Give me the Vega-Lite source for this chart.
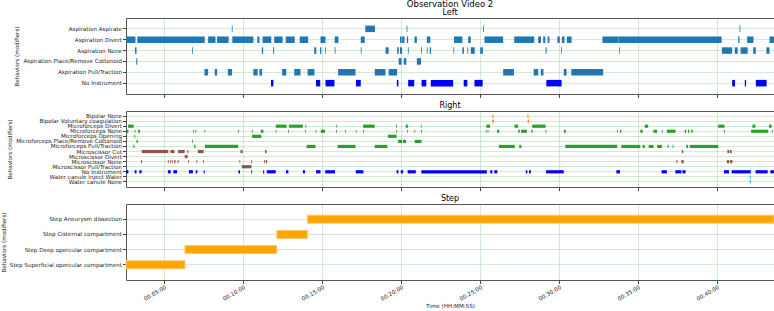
{
"$schema": "https://vega.github.io/schema/vega-lite/v6.json",
"padding": {"left": 0, "right": 0, "top": 0, "bottom": 0},
"background": "white",
"config": {
  "font": "DejaVu Sans",
  "view": {"stroke": "#555", "strokeWidth": 1},
  "title": {"fontSize": 8, "fontWeight": "normal", "color": "#000", "offset": 1, "frame": "group"},
  "axis": {"domain": false, "labelFont": "DejaVu Sans", "labelFontSize": 5.6, "labelColor": "#222", "titleFont": "DejaVu Sans", "titleFontSize": 5.6, "titleFontWeight": "normal", "titleColor": "#222", "tickColor": "#444", "tickSize": 3.5, "gridColor": "#2ca02c", "gridOpacity": 0.3, "gridWidth": 0.7, "labelOverlap": false}
},
"title": {"text": "Observation Video 2", "anchor": "middle", "fontSize": 8.5, "offset": 0},
"spacing": 2,
"datasets": {
"left": [
{"b":"Aspiration Aspirate","g":"Aspiration","s":556,"e":559},
{"b":"Aspiration Aspirate","g":"Aspiration","s":1063,"e":1100},
{"b":"Aspiration Aspirate","g":"Aspiration","s":1220,"e":1223},
{"b":"Aspiration Aspirate","g":"Aspiration","s":1511,"e":1514},
{"b":"Aspiration Aspirate","g":"Aspiration","s":2485,"e":2488},
{"b":"Aspiration Divert","g":"Aspiration","s":155,"e":190},
{"b":"Aspiration Divert","g":"Aspiration","s":197,"e":453},
{"b":"Aspiration Divert","g":"Aspiration","s":466,"e":494},
{"b":"Aspiration Divert","g":"Aspiration","s":500,"e":544},
{"b":"Aspiration Divert","g":"Aspiration","s":558,"e":638},
{"b":"Aspiration Divert","g":"Aspiration","s":653,"e":661},
{"b":"Aspiration Divert","g":"Aspiration","s":673,"e":706},
{"b":"Aspiration Divert","g":"Aspiration","s":717,"e":749},
{"b":"Aspiration Divert","g":"Aspiration","s":761,"e":795},
{"b":"Aspiration Divert","g":"Aspiration","s":814,"e":846},
{"b":"Aspiration Divert","g":"Aspiration","s":893,"e":912},
{"b":"Aspiration Divert","g":"Aspiration","s":947,"e":961},
{"b":"Aspiration Divert","g":"Aspiration","s":1046,"e":1061},
{"b":"Aspiration Divert","g":"Aspiration","s":1195,"e":1201},
{"b":"Aspiration Divert","g":"Aspiration","s":1203,"e":1212},
{"b":"Aspiration Divert","g":"Aspiration","s":1221,"e":1226},
{"b":"Aspiration Divert","g":"Aspiration","s":1250,"e":1259},
{"b":"Aspiration Divert","g":"Aspiration","s":1297,"e":1310},
{"b":"Aspiration Divert","g":"Aspiration","s":1400,"e":1432},
{"b":"Aspiration Divert","g":"Aspiration","s":1454,"e":1464},
{"b":"Aspiration Divert","g":"Aspiration","s":1516,"e":1587},
{"b":"Aspiration Divert","g":"Aspiration","s":1629,"e":1705},
{"b":"Aspiration Divert","g":"Aspiration","s":1720,"e":1731},
{"b":"Aspiration Divert","g":"Aspiration","s":1739,"e":1747},
{"b":"Aspiration Divert","g":"Aspiration","s":1756,"e":1763},
{"b":"Aspiration Divert","g":"Aspiration","s":1793,"e":1802},
{"b":"Aspiration Divert","g":"Aspiration","s":1810,"e":1820},
{"b":"Aspiration Divert","g":"Aspiration","s":1829,"e":1847},
{"b":"Aspiration Divert","g":"Aspiration","s":1964,"e":2026},
{"b":"Aspiration Divert","g":"Aspiration","s":2027,"e":2417},
{"b":"Aspiration Divert","g":"Aspiration","s":2480,"e":2485},
{"b":"Aspiration Divert","g":"Aspiration","s":2514,"e":2538},
{"b":"Aspiration Divert","g":"Aspiration","s":2599,"e":2616},
{"b":"Aspiration None","g":"Aspiration","s":188,"e":194},
{"b":"Aspiration None","g":"Aspiration","s":405,"e":408},
{"b":"Aspiration None","g":"Aspiration","s":670,"e":675},
{"b":"Aspiration None","g":"Aspiration","s":713,"e":717},
{"b":"Aspiration None","g":"Aspiration","s":869,"e":877},
{"b":"Aspiration None","g":"Aspiration","s":891,"e":896},
{"b":"Aspiration None","g":"Aspiration","s":910,"e":913},
{"b":"Aspiration None","g":"Aspiration","s":947,"e":950},
{"b":"Aspiration None","g":"Aspiration","s":1046,"e":1049},
{"b":"Aspiration None","g":"Aspiration","s":1140,"e":1152},
{"b":"Aspiration None","g":"Aspiration","s":1184,"e":1190},
{"b":"Aspiration None","g":"Aspiration","s":1195,"e":1203},
{"b":"Aspiration None","g":"Aspiration","s":1225,"e":1228},
{"b":"Aspiration None","g":"Aspiration","s":1275,"e":1278},
{"b":"Aspiration None","g":"Aspiration","s":1297,"e":1300},
{"b":"Aspiration None","g":"Aspiration","s":1308,"e":1313},
{"b":"Aspiration None","g":"Aspiration","s":1398,"e":1401},
{"b":"Aspiration None","g":"Aspiration","s":1432,"e":1438},
{"b":"Aspiration None","g":"Aspiration","s":1451,"e":1454},
{"b":"Aspiration None","g":"Aspiration","s":1464,"e":1479},
{"b":"Aspiration None","g":"Aspiration","s":1500,"e":1510},
{"b":"Aspiration None","g":"Aspiration","s":1748,"e":1752},
{"b":"Aspiration None","g":"Aspiration","s":1807,"e":1810},
{"b":"Aspiration None","g":"Aspiration","s":2027,"e":2030},
{"b":"Aspiration None","g":"Aspiration","s":2418,"e":2457},
{"b":"Aspiration None","g":"Aspiration","s":2467,"e":2478},
{"b":"Aspiration None","g":"Aspiration","s":2489,"e":2516},
{"b":"Aspiration None","g":"Aspiration","s":2537,"e":2547},
{"b":"Aspiration None","g":"Aspiration","s":2587,"e":2599},
{"b":"Aspiration Place/Remove Cottonoid","g":"Aspiration","s":193,"e":197},
{"b":"Aspiration Place/Remove Cottonoid","g":"Aspiration","s":1190,"e":1201},
{"b":"Aspiration Place/Remove Cottonoid","g":"Aspiration","s":1209,"e":1219},
{"b":"Aspiration Place/Remove Cottonoid","g":"Aspiration","s":1259,"e":1275},
{"b":"Aspiration Pull/Traction","g":"Aspiration","s":452,"e":466},
{"b":"Aspiration Pull/Traction","g":"Aspiration","s":491,"e":500},
{"b":"Aspiration Pull/Traction","g":"Aspiration","s":541,"e":557},
{"b":"Aspiration Pull/Traction","g":"Aspiration","s":638,"e":654},
{"b":"Aspiration Pull/Traction","g":"Aspiration","s":661,"e":671},
{"b":"Aspiration Pull/Traction","g":"Aspiration","s":747,"e":763},
{"b":"Aspiration Pull/Traction","g":"Aspiration","s":793,"e":817},
{"b":"Aspiration Pull/Traction","g":"Aspiration","s":844,"e":870},
{"b":"Aspiration Pull/Traction","g":"Aspiration","s":960,"e":1026},
{"b":"Aspiration Pull/Traction","g":"Aspiration","s":1099,"e":1140},
{"b":"Aspiration Pull/Traction","g":"Aspiration","s":1152,"e":1184},
{"b":"Aspiration Pull/Traction","g":"Aspiration","s":1587,"e":1628},
{"b":"Aspiration Pull/Traction","g":"Aspiration","s":1703,"e":1720},
{"b":"Aspiration Pull/Traction","g":"Aspiration","s":1730,"e":1740},
{"b":"Aspiration Pull/Traction","g":"Aspiration","s":1817,"e":1828},
{"b":"Aspiration Pull/Traction","g":"Aspiration","s":1846,"e":1967},
{"b":"No Instrument","g":"No Instrument","s":705,"e":714},
{"b":"No Instrument","g":"No Instrument","s":876,"e":892},
{"b":"No Instrument","g":"No Instrument","s":912,"e":946},
{"b":"No Instrument","g":"No Instrument","s":1028,"e":1046},
{"b":"No Instrument","g":"No Instrument","s":1183,"e":1189},
{"b":"No Instrument","g":"No Instrument","s":1226,"e":1249},
{"b":"No Instrument","g":"No Instrument","s":1277,"e":1295},
{"b":"No Instrument","g":"No Instrument","s":1312,"e":1397},
{"b":"No Instrument","g":"No Instrument","s":1437,"e":1451},
{"b":"No Instrument","g":"No Instrument","s":1478,"e":1509},
{"b":"No Instrument","g":"No Instrument","s":1751,"e":1809},
{"b":"No Instrument","g":"No Instrument","s":2457,"e":2468},
{"b":"No Instrument","g":"No Instrument","s":2505,"e":2510},
{"b":"No Instrument","g":"No Instrument","s":2547,"e":2588}
],
"right": [
{"b":"Bipolar None","g":"Bipolar","s":1545,"e":1547},
{"b":"Bipolar None","g":"Bipolar","s":1550,"e":1552},
{"b":"Bipolar None","g":"Bipolar","s":1678,"e":1680},
{"b":"Bipolar None","g":"Bipolar","s":1682,"e":1684},
{"b":"Bipolar Voluntary coagulation","g":"Bipolar","s":1546,"e":1552},
{"b":"Bipolar Voluntary coagulation","g":"Bipolar","s":1680,"e":1685},
{"b":"Microforceps Divert","g":"Microforceps","s":162,"e":183},
{"b":"Microforceps Divert","g":"Microforceps","s":723,"e":764},
{"b":"Microforceps Divert","g":"Microforceps","s":773,"e":826},
{"b":"Microforceps Divert","g":"Microforceps","s":836,"e":839},
{"b":"Microforceps Divert","g":"Microforceps","s":953,"e":956},
{"b":"Microforceps Divert","g":"Microforceps","s":1055,"e":1099},
{"b":"Microforceps Divert","g":"Microforceps","s":1180,"e":1183},
{"b":"Microforceps Divert","g":"Microforceps","s":1217,"e":1225},
{"b":"Microforceps Divert","g":"Microforceps","s":1274,"e":1277},
{"b":"Microforceps Divert","g":"Microforceps","s":1523,"e":1537},
{"b":"Microforceps Divert","g":"Microforceps","s":1630,"e":1644},
{"b":"Microforceps Divert","g":"Microforceps","s":1697,"e":1748},
{"b":"Microforceps Divert","g":"Microforceps","s":2125,"e":2138},
{"b":"Microforceps Divert","g":"Microforceps","s":2404,"e":2428},
{"b":"Microforceps Divert","g":"Microforceps","s":2534,"e":2545},
{"b":"Microforceps Divert","g":"Microforceps","s":2597,"e":2607},
{"b":"Microforceps None","g":"Microforceps","s":155,"e":163},
{"b":"Microforceps None","g":"Microforceps","s":187,"e":190},
{"b":"Microforceps None","g":"Microforceps","s":200,"e":207},
{"b":"Microforceps None","g":"Microforceps","s":409,"e":412},
{"b":"Microforceps None","g":"Microforceps","s":418,"e":421},
{"b":"Microforceps None","g":"Microforceps","s":452,"e":455},
{"b":"Microforceps None","g":"Microforceps","s":580,"e":583},
{"b":"Microforceps None","g":"Microforceps","s":632,"e":635},
{"b":"Microforceps None","g":"Microforceps","s":666,"e":676},
{"b":"Microforceps None","g":"Microforceps","s":723,"e":726},
{"b":"Microforceps None","g":"Microforceps","s":770,"e":773},
{"b":"Microforceps None","g":"Microforceps","s":835,"e":838},
{"b":"Microforceps None","g":"Microforceps","s":874,"e":877},
{"b":"Microforceps None","g":"Microforceps","s":894,"e":910},
{"b":"Microforceps None","g":"Microforceps","s":952,"e":955},
{"b":"Microforceps None","g":"Microforceps","s":987,"e":990},
{"b":"Microforceps None","g":"Microforceps","s":1027,"e":1030},
{"b":"Microforceps None","g":"Microforceps","s":1055,"e":1058},
{"b":"Microforceps None","g":"Microforceps","s":1181,"e":1184},
{"b":"Microforceps None","g":"Microforceps","s":1222,"e":1225},
{"b":"Microforceps None","g":"Microforceps","s":1250,"e":1253},
{"b":"Microforceps None","g":"Microforceps","s":1275,"e":1278},
{"b":"Microforceps None","g":"Microforceps","s":1521,"e":1524},
{"b":"Microforceps None","g":"Microforceps","s":1528,"e":1531},
{"b":"Microforceps None","g":"Microforceps","s":1564,"e":1572},
{"b":"Microforceps None","g":"Microforceps","s":1644,"e":1650},
{"b":"Microforceps None","g":"Microforceps","s":1655,"e":1677},
{"b":"Microforceps None","g":"Microforceps","s":1694,"e":1699},
{"b":"Microforceps None","g":"Microforceps","s":1748,"e":1751},
{"b":"Microforceps None","g":"Microforceps","s":1818,"e":1825},
{"b":"Microforceps None","g":"Microforceps","s":2019,"e":2022},
{"b":"Microforceps None","g":"Microforceps","s":2031,"e":2036},
{"b":"Microforceps None","g":"Microforceps","s":2108,"e":2117},
{"b":"Microforceps None","g":"Microforceps","s":2158,"e":2172},
{"b":"Microforceps None","g":"Microforceps","s":2190,"e":2193},
{"b":"Microforceps None","g":"Microforceps","s":2209,"e":2242},
{"b":"Microforceps None","g":"Microforceps","s":2277,"e":2282},
{"b":"Microforceps None","g":"Microforceps","s":2289,"e":2294},
{"b":"Microforceps None","g":"Microforceps","s":2301,"e":2307},
{"b":"Microforceps None","g":"Microforceps","s":2426,"e":2429},
{"b":"Microforceps None","g":"Microforceps","s":2529,"e":2594},
{"b":"Microforceps None","g":"Microforceps","s":2608,"e":2611},
{"b":"Microforceps Opening","g":"Microforceps","s":186,"e":189},
{"b":"Microforceps Opening","g":"Microforceps","s":633,"e":668},
{"b":"Microforceps Opening","g":"Microforceps","s":1149,"e":1182},
{"b":"Microforceps Place/Remove Cottonoid","g":"Microforceps","s":194,"e":199},
{"b":"Microforceps Place/Remove Cottonoid","g":"Microforceps","s":405,"e":408},
{"b":"Microforceps Place/Remove Cottonoid","g":"Microforceps","s":1188,"e":1203},
{"b":"Microforceps Place/Remove Cottonoid","g":"Microforceps","s":1206,"e":1218},
{"b":"Microforceps Place/Remove Cottonoid","g":"Microforceps","s":1251,"e":1277},
{"b":"Microforceps Pull/Traction","g":"Microforceps","s":182,"e":186},
{"b":"Microforceps Pull/Traction","g":"Microforceps","s":413,"e":418},
{"b":"Microforceps Pull/Traction","g":"Microforceps","s":454,"e":580},
{"b":"Microforceps Pull/Traction","g":"Microforceps","s":840,"e":874},
{"b":"Microforceps Pull/Traction","g":"Microforceps","s":958,"e":1026},
{"b":"Microforceps Pull/Traction","g":"Microforceps","s":1099,"e":1147},
{"b":"Microforceps Pull/Traction","g":"Microforceps","s":1571,"e":1631},
{"b":"Microforceps Pull/Traction","g":"Microforceps","s":1648,"e":1656},
{"b":"Microforceps Pull/Traction","g":"Microforceps","s":1823,"e":2020},
{"b":"Microforceps Pull/Traction","g":"Microforceps","s":2036,"e":2108},
{"b":"Microforceps Pull/Traction","g":"Microforceps","s":2117,"e":2125},
{"b":"Microforceps Pull/Traction","g":"Microforceps","s":2140,"e":2158},
{"b":"Microforceps Pull/Traction","g":"Microforceps","s":2172,"e":2190},
{"b":"Microforceps Pull/Traction","g":"Microforceps","s":2212,"e":2216},
{"b":"Microforceps Pull/Traction","g":"Microforceps","s":2231,"e":2234},
{"b":"Microforceps Pull/Traction","g":"Microforceps","s":2283,"e":2290},
{"b":"Microforceps Pull/Traction","g":"Microforceps","s":2296,"e":2404},
{"b":"Microscissor Cut","g":"Microscissor","s":214,"e":315},
{"b":"Microscissor Cut","g":"Microscissor","s":323,"e":338},
{"b":"Microscissor Cut","g":"Microscissor","s":352,"e":377},
{"b":"Microscissor Cut","g":"Microscissor","s":387,"e":391},
{"b":"Microscissor Cut","g":"Microscissor","s":427,"e":449},
{"b":"Microscissor Cut","g":"Microscissor","s":589,"e":597},
{"b":"Microscissor Cut","g":"Microscissor","s":682,"e":688},
{"b":"Microscissor Cut","g":"Microscissor","s":2266,"e":2271},
{"b":"Microscissor Cut","g":"Microscissor","s":2439,"e":2446},
{"b":"Microscissor Cut","g":"Microscissor","s":2449,"e":2455},
{"b":"Microscissor Divert","g":"Microscissor","s":377,"e":388},
{"b":"Microscissor None","g":"Microscissor","s":211,"e":215},
{"b":"Microscissor None","g":"Microscissor","s":313,"e":316},
{"b":"Microscissor None","g":"Microscissor","s":321,"e":324},
{"b":"Microscissor None","g":"Microscissor","s":328,"e":331},
{"b":"Microscissor None","g":"Microscissor","s":337,"e":342},
{"b":"Microscissor None","g":"Microscissor","s":350,"e":354},
{"b":"Microscissor None","g":"Microscissor","s":390,"e":393},
{"b":"Microscissor None","g":"Microscissor","s":422,"e":425},
{"b":"Microscissor None","g":"Microscissor","s":447,"e":450},
{"b":"Microscissor None","g":"Microscissor","s":585,"e":588},
{"b":"Microscissor None","g":"Microscissor","s":630,"e":633},
{"b":"Microscissor None","g":"Microscissor","s":679,"e":683},
{"b":"Microscissor None","g":"Microscissor","s":686,"e":690},
{"b":"Microscissor None","g":"Microscissor","s":2245,"e":2249},
{"b":"Microscissor None","g":"Microscissor","s":2264,"e":2273},
{"b":"Microscissor None","g":"Microscissor","s":2437,"e":2446},
{"b":"Microscissor None","g":"Microscissor","s":2449,"e":2458},
{"b":"Microscissor Pull/Traction","g":"Microscissor","s":594,"e":631},
{"b":"No Instrument","g":"No Instrument","s":154,"e":163},
{"b":"No Instrument","g":"No Instrument","s":187,"e":194},
{"b":"No Instrument","g":"No Instrument","s":205,"e":213},
{"b":"No Instrument","g":"No Instrument","s":313,"e":324},
{"b":"No Instrument","g":"No Instrument","s":334,"e":348},
{"b":"No Instrument","g":"No Instrument","s":393,"e":408},
{"b":"No Instrument","g":"No Instrument","s":419,"e":425},
{"b":"No Instrument","g":"No Instrument","s":449,"e":453},
{"b":"No Instrument","g":"No Instrument","s":581,"e":587},
{"b":"No Instrument","g":"No Instrument","s":630,"e":633},
{"b":"No Instrument","g":"No Instrument","s":675,"e":679},
{"b":"No Instrument","g":"No Instrument","s":689,"e":723},
{"b":"No Instrument","g":"No Instrument","s":762,"e":771},
{"b":"No Instrument","g":"No Instrument","s":826,"e":834},
{"b":"No Instrument","g":"No Instrument","s":876,"e":893},
{"b":"No Instrument","g":"No Instrument","s":911,"e":948},
{"b":"No Instrument","g":"No Instrument","s":1027,"e":1056},
{"b":"No Instrument","g":"No Instrument","s":1182,"e":1189},
{"b":"No Instrument","g":"No Instrument","s":1198,"e":1207},
{"b":"No Instrument","g":"No Instrument","s":1224,"e":1255},
{"b":"No Instrument","g":"No Instrument","s":1276,"e":1525},
{"b":"No Instrument","g":"No Instrument","s":1538,"e":1546},
{"b":"No Instrument","g":"No Instrument","s":1553,"e":1565},
{"b":"No Instrument","g":"No Instrument","s":1673,"e":1679},
{"b":"No Instrument","g":"No Instrument","s":1685,"e":1692},
{"b":"No Instrument","g":"No Instrument","s":1750,"e":1817},
{"b":"No Instrument","g":"No Instrument","s":2017,"e":2031},
{"b":"No Instrument","g":"No Instrument","s":2189,"e":2209},
{"b":"No Instrument","g":"No Instrument","s":2241,"e":2264},
{"b":"No Instrument","g":"No Instrument","s":2268,"e":2280},
{"b":"No Instrument","g":"No Instrument","s":2426,"e":2445},
{"b":"No Instrument","g":"No Instrument","s":2455,"e":2528},
{"b":"No Instrument","g":"No Instrument","s":2546,"e":2592},
{"b":"No Instrument","g":"No Instrument","s":2602,"e":2616},
{"b":"Water canule Inject Water","g":"Water canule","s":2524,"e":2528},
{"b":"Water canule None","g":"Water canule","s":2524,"e":2528}
],
"step": [
{"b":"Step Superficial opercular compartment","g":"Step","s":154,"e":378},
{"b":"Step Deep opercular compartment","g":"Step","s":378,"e":727},
{"b":"Step Cisternal compartment","g":"Step","s":727,"e":843},
{"b":"Step Aneurysm dissection","g":"Step","s":843,"e":2616}
]
},
"vconcat": [
{
  "width": 648, "height": 76, "title": "Left",
  "data": {"name": "left"},
  "mark": {"type": "bar", "size": 6.5},
  "encoding": {
    "x": {"field": "s", "type": "quantitative", "scale": {"domain": [154, 2616], "nice": false, "zero": false},
          "axis": {"values": [300,600,900,1200,1500,1800,2100,2400], "labels": false, "title": null, "grid": true}},
    "x2": {"field": "e"},
    "y": {"field": "b", "type": "nominal",
          "scale": {"domain": ["Aspiration Aspirate","Aspiration Divert","Aspiration None","Aspiration Place/Remove Cottonoid","Aspiration Pull/Traction","No Instrument"], "paddingInner": 0, "paddingOuter": 0.5},
          "axis": {"title": "Behaviors (modifiers)", "bandPosition": 0.5, "grid": true, "labelPadding": 1, "titlePadding": 3}},
    "color": {"field": "g", "type": "nominal", "legend": null,
              "scale": {"domain": ["Aspiration","No Instrument","Bipolar","Microforceps","Microscissor","Water canule","Step"], "range": ["#1f77b4","#0000ff","#ff7f0e","#2ca02c","#8c564b","#17becf","#ffa500"]}}
  }
},
{
  "width": 648, "height": 76, "title": "Right",
  "data": {"name": "right"},
  "mark": {"type": "bar", "size": 3.2},
  "encoding": {
    "x": {"field": "s", "type": "quantitative", "scale": {"domain": [154, 2616], "nice": false, "zero": false},
          "axis": {"values": [300,600,900,1200,1500,1800,2100,2400], "labels": false, "title": null, "grid": true}},
    "x2": {"field": "e"},
    "y": {"field": "b", "type": "nominal",
          "scale": {"domain": ["Bipolar None","Bipolar Voluntary coagulation","Microforceps Divert","Microforceps None","Microforceps Opening","Microforceps Place/Remove Cottonoid","Microforceps Pull/Traction","Microscissor Cut","Microscissor Divert","Microscissor None","Microscissor Pull/Traction","No Instrument","Water canule Inject Water","Water canule None"], "paddingInner": 0, "paddingOuter": 0.5},
          "axis": {"title": "Behaviors (modifiers)", "bandPosition": 0.5, "grid": true, "labelPadding": 1, "titlePadding": 3}},
    "color": {"field": "g", "type": "nominal", "legend": null,
              "scale": {"domain": ["Aspiration","No Instrument","Bipolar","Microforceps","Microscissor","Water canule","Step"], "range": ["#1f77b4","#0000ff","#ff7f0e","#2ca02c","#8c564b","#17becf","#ffa500"]}}
  }
},
{
  "width": 648, "height": 76, "title": "Step",
  "data": {"name": "step"},
  "mark": {"type": "bar", "size": 8, "stroke": "#ffc966", "strokeWidth": 1},
  "encoding": {
    "x": {"field": "s", "type": "quantitative", "scale": {"domain": [154, 2616], "nice": false, "zero": false},
          "axis": {"values": [300,600,900,1200,1500,1800,2100,2400], "labelExpr": "utcFormat(datum.value*1000, '%H:%M:%S')", "labelAngle": -30, "labelAlign": "right", "labelBaseline": "top", "labelPadding": 1, "title": "Time (HH:MM:SS)", "titlePadding": 2, "grid": true}},
    "x2": {"field": "e"},
    "y": {"field": "b", "type": "nominal",
          "scale": {"domain": ["Step Aneurysm dissection","Step Cisternal compartment","Step Deep opercular compartment","Step Superficial opercular compartment"], "paddingInner": 0, "paddingOuter": 0.5},
          "axis": {"title": "Behaviors (modifiers)", "bandPosition": 0.5, "grid": true, "labelPadding": 1, "titlePadding": 3}},
    "color": {"field": "g", "type": "nominal", "legend": null,
              "scale": {"domain": ["Aspiration","No Instrument","Bipolar","Microforceps","Microscissor","Water canule","Step"], "range": ["#1f77b4","#0000ff","#ff7f0e","#2ca02c","#8c564b","#17becf","#ffa500"]}}
  }
}
]
}
